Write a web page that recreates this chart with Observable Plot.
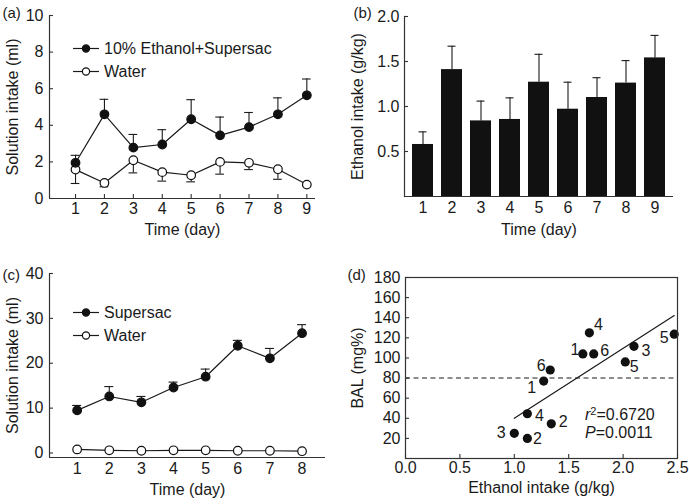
<!DOCTYPE html>
<html>
<head>
<meta charset="utf-8">
<script src="https://cdn.jsdelivr.net/npm/d3@7"></script>
<script src="https://cdn.jsdelivr.net/npm/@observablehq/plot@0.6"></script>
<style>
  body { margin: 0; background: #fff; }
  #fig { position: relative; width: 689px; height: 504px; font-family: "Liberation Sans", Arial, sans-serif; color: #1a1a1a; overflow: hidden; }
  .panel { position: absolute; }
  .legend { position: absolute; font-size: 16px; line-height: 23px; }
  .legend .row { display: flex; align-items: center; height: 23px; white-space: nowrap; }
  .legend svg { display: block; margin-right: 4px; }
  .stats { position: absolute; font-size: 16px; line-height: 18px; white-space: nowrap; }
</style>
</head>
<body>
<div id="fig"></div>
<script>
// ---------- Data ----------
// (a) 10% ethanol + Supersac vs water, days 1-9 (ml), mean and SEM
const daysA = [1, 2, 3, 4, 5, 6, 7, 8, 9];
const ethanolMl = [1.95, 4.6, 2.78, 2.95, 4.33, 3.45, 3.9, 4.6, 5.64];
const ethanolMlSem = [0.41, 0.82, 0.72, 0.81, 1.07, 1.0, 0.8, 0.9, 0.89];
const waterMlA = [1.58, 0.85, 2.09, 1.44, 1.27, 2.0, 1.95, 1.6, 0.76];
const waterMlASem = [0.76, 0.21, 0.69, 0.49, 0.36, 0.67, 0.37, 0.55, 0.05];

// (b) ethanol intake (g/kg), days 1-9
const daysB = ["1", "2", "3", "4", "5", "6", "7", "8", "9"];
const ethanolGkg = [0.578, 1.41, 0.84, 0.856, 1.27, 0.97, 1.10, 1.26, 1.54];
const ethanolGkgSem = [0.14, 0.26, 0.22, 0.24, 0.31, 0.30, 0.22, 0.25, 0.25];

// (c) Supersac vs water, days 1-8 (ml)
const daysC = [1, 2, 3, 4, 5, 6, 7, 8];
const supersacMl = [9.5, 12.6, 11.3, 14.6, 17.0, 23.9, 21.1, 26.7];
const supersacMlSem = [1.1, 2.2, 1.3, 1.2, 1.7, 1.2, 2.2, 1.9];
const waterMlC = [0.8, 0.6, 0.5, 0.6, 0.6, 0.5, 0.5, 0.4];

// (d) BAL vs ethanol intake, labelled by animal
const intakeD = [1.0, 1.12, 1.12, 1.34, 1.27, 1.33, 1.63, 1.69, 1.73, 2.02, 2.10, 2.47];
const balD = [25, 20, 44.5, 34.5, 77, 88, 104, 125, 104, 96, 111.6, 123.6];
const animalD = ["3", "2", "4", "2", "1", "6", "1", "4", "6", "5", "3", "5"];
const balThreshold = [80];
const statsText = ["0.6720", "0.0011"];

// tick labels
const ticksA_y = [0, 2, 4, 6, 8, 10];
const ticksB_y = [0.5, 1.0, 1.5, 2.0];
const ticksC_y = [0, 10, 20, 30, 40];
const ticksD_x = [0, 0.5, 1.0, 1.5, 2.0, 2.5];
const ticksD_y = [20, 40, 60, 80, 100, 120, 140, 160, 180];

// label placement for (d) (pixel offsets: dx, dy)
const labelOffsetD = [[-13, 0], [10, 0], [12, 2], [12, -2], [-12, 7], [-9, -4], [-8, -4], [9, -8], [11, -3], [9, 5], [12, 5], [-10, 4]];

// ---------- Helpers ----------
const FONT = "'Liberation Sans', Arial, sans-serif";
const INK = "#1a1a1a";
const AX = "#333";
const fig = document.getElementById("fig");

function place(el, left, top) {
  const wrap = document.createElement("div");
  wrap.className = "panel";
  wrap.style.left = left + "px";
  wrap.style.top = top + "px";
  wrap.appendChild(el);
  fig.appendChild(wrap);
}
function style() {
  return { fontFamily: FONT, fontSize: "16px", color: INK, background: "transparent", overflow: "visible" };
}
function inwardY(ticks, innerW) {
  return Plot.tickY(ticks, { y: d => d, insetRight: innerW - 4, stroke: AX, strokeWidth: 1.1 });
}
function inwardX(ticks, innerH) {
  return Plot.tickX(ticks, { x: d => d, insetTop: innerH - 4, stroke: AX, strokeWidth: 1.1 });
}
function yTitle(t, dx) {
  return Plot.text([t], { frameAnchor: "left", rotate: -90, dx, textAnchor: "middle", lineAnchor: "middle", fontSize: 16, fill: INK });
}
function xTitle(t, dy) {
  return Plot.text([t], { frameAnchor: "bottom", dy, textAnchor: "middle", lineAnchor: "middle", fontSize: 16, fill: INK });
}
function tag(t, dx, dy) {
  return Plot.text([t], { frameAnchor: "top-left", dx, dy, textAnchor: "start", lineAnchor: "middle", fontSize: 15, fill: INK });
}
function legend(left, top, rows) {
  const div = document.createElement("div");
  div.className = "legend";
  div.style.left = left + "px";
  div.style.top = top + "px";
  for (const r of rows) {
    const row = document.createElement("div");
    row.className = "row";
    row.innerHTML = `<svg width="27" height="23"><line x1="0" x2="26" y1="11.5" y2="11.5" stroke="${INK}" stroke-width="1.2"/><circle cx="13" cy="11.5" r="3.6" fill="${r.filled ? "#111" : "#fff"}" stroke="#111" stroke-width="1.2"/></svg><span>${r.label}</span>`;
    div.appendChild(row);
  }
  fig.appendChild(div);
}

// ---------- (a) ----------
{
  const W = 345, H = 248, ml = 49, mr = 30, mt = 15, mb = 50;
  const eth = daysA.map((d, i) => ({ day: d, v: ethanolMl[i], e: ethanolMlSem[i] }));
  const wat = daysA.map((d, i) => ({ day: d, v: waterMlA[i], e: waterMlASem[i] }));
  const cap = 0.15;
  const p = Plot.plot({
    width: W, height: H, marginLeft: ml, marginRight: mr, marginTop: mt, marginBottom: mb,
    style: style(),
    x: { domain: [0.1, 9.3] },
    y: { domain: [0, 10] },
    marks: [
      Plot.axisY(ticksA_y, { tickSize: 0, tickPadding: 6, label: null, fontSize: 16 }),
      Plot.axisX(daysA, { tickSize: 0, tickPadding: 4, label: null, fontSize: 16 }),
      inwardY(ticksA_y, W - ml - mr),
      inwardX(daysA, H - mt - mb),
      Plot.ruleX([0.1], { stroke: AX, strokeWidth: 1.2 }),
      Plot.ruleY([0], { stroke: AX, strokeWidth: 1.2 }),
      // error bars
      Plot.ruleX(eth, { x: "day", y1: "v", y2: d => d.v + d.e, stroke: INK, strokeWidth: 1.1 }),
      Plot.ruleY(eth, { y: d => d.v + d.e, x1: d => d.day - cap, x2: d => d.day + cap, stroke: INK, strokeWidth: 1.1 }),
      Plot.ruleX(wat, { x: "day", y1: "v", y2: d => d.v - d.e, stroke: INK, strokeWidth: 1.1 }),
      Plot.ruleY(wat, { y: d => d.v - d.e, x1: d => d.day - cap, x2: d => d.day + cap, stroke: INK, strokeWidth: 1.1 }),
      Plot.line(eth, { x: "day", y: "v", stroke: INK, strokeWidth: 1.2 }),
      Plot.line(wat, { x: "day", y: "v", stroke: INK, strokeWidth: 1.2 }),
      Plot.dot(wat, { x: "day", y: "v", r: 4.3, fill: "white", stroke: "#111", strokeWidth: 1.2 }),
      Plot.dot(eth, { x: "day", y: "v", r: 4.3, fill: "#111", stroke: "#111", strokeWidth: 1.2 }),
      yTitle("Solution intake (ml)", -37),
      xTitle("Time (day)", 31),
      tag("(a)", -47, -2)
    ]
  });
  place(p, 0, 0);
  legend(73, 36.5, [{ label: "10% Ethanol+Supersac", filled: true }, { label: "Water", filled: false }]);
}

// ---------- (b) ----------
{
  const W = 344, H = 248, ml = 59, mr = 16, mt = 16, mb = 52;
  const bars = daysB.map((d, i) => ({ day: d, v: ethanolGkg[i], e: ethanolGkgSem[i] }));
  const p = Plot.plot({
    width: W, height: H, marginLeft: ml, marginRight: mr, marginTop: mt, marginBottom: mb,
    style: style(),
    x: { domain: daysB, paddingInner: 0.27, paddingOuter: 0.15 },
    y: { domain: [0, 2] },
    marks: [
      Plot.axisY(ticksB_y, { tickSize: 0, tickPadding: 5, label: null, fontSize: 16, tickFormat: d3.format(".1f") }),
      Plot.axisX({ tickSize: 0, tickPadding: 5, label: null, fontSize: 16 }),
      inwardY(ticksB_y, W - ml - mr),
      Plot.ruleX(bars, { x: "day", y1: "v", y2: d => d.v + d.e, stroke: INK, strokeWidth: 1.1 }),
      Plot.tickY(bars, { x: "day", y: d => d.v + d.e, insetLeft: 6.5, insetRight: 6.5, stroke: INK, strokeWidth: 1.1 }),
      Plot.barY(bars, { x: "day", y: "v", fill: "#111" }),
      Plot.frame({ anchor: "left", stroke: AX, strokeWidth: 1.2 }),
      Plot.ruleY([0], { stroke: AX, strokeWidth: 1.2 }),
      yTitle("Ethanol intake (g/kg)", -47),
      xTitle("Time (day)", 33),
      tag("(b)", -51, -3)
    ]
  });
  place(p, 345, 0);
}

// ---------- (c) ----------
{
  const W = 345, H = 254, ml = 49, mr = 20, mt = 23, mb = 47;
  const sup = daysC.map((d, i) => ({ day: d, v: supersacMl[i], e: supersacMlSem[i] }));
  const wat = daysC.map((d, i) => ({ day: d, v: waterMlC[i] }));
  const cap = 0.14;
  const p = Plot.plot({
    width: W, height: H, marginLeft: ml, marginRight: mr, marginTop: mt, marginBottom: mb,
    style: style(),
    x: { domain: [0.14, 8.73] },
    y: { domain: [-1, 40] },
    marks: [
      Plot.axisY(ticksC_y, { tickSize: 0, tickPadding: 6, label: null, fontSize: 16 }),
      Plot.axisX(daysC, { tickSize: 0, tickPadding: 5, label: null, fontSize: 16 }),
      inwardY(ticksC_y, W - ml - mr),
      Plot.ruleX([0.14], { stroke: AX, strokeWidth: 1.2 }),
      Plot.ruleY([-1], { stroke: AX, strokeWidth: 1.2 }),
      Plot.ruleX(sup, { x: "day", y1: "v", y2: d => d.v + d.e, stroke: INK, strokeWidth: 1.1 }),
      Plot.ruleY(sup, { y: d => d.v + d.e, x1: d => d.day - cap, x2: d => d.day + cap, stroke: INK, strokeWidth: 1.1 }),
      Plot.line(sup, { x: "day", y: "v", stroke: INK, strokeWidth: 1.2 }),
      Plot.line(wat, { x: "day", y: "v", stroke: INK, strokeWidth: 1.2 }),
      Plot.dot(wat, { x: "day", y: "v", r: 4.3, fill: "white", stroke: "#111", strokeWidth: 1.2 }),
      Plot.dot(sup, { x: "day", y: "v", r: 4.3, fill: "#111", stroke: "#111", strokeWidth: 1.2 }),
      yTitle("Solution intake (ml)", -37),
      xTitle("Time (day)", 32),
      tag("(c)", -47, 2)
    ]
  });
  place(p, 0, 250);
  legend(73, 301, [{ label: "Supersac", filled: true }, { label: "Water", filled: false }]);
}

// ---------- (d) ----------
{
  const W = 344, H = 254, ml = 60, mr = 12, mt = 27, mb = 46;
  const pts = intakeD.map((x, i) => ({ x, y: balD[i], lab: animalD[i], dx: labelOffsetD[i][0], dy: labelOffsetD[i][1] }));
  const p = Plot.plot({
    width: W, height: H, marginLeft: ml, marginRight: mr, marginTop: mt, marginBottom: mb,
    style: style(),
    x: { domain: [0, 2.5] },
    y: { domain: [0, 180] },
    marks: [
      Plot.axisY(ticksD_y, { tickSize: 0, tickPadding: 5, label: null, fontSize: 16 }),
      Plot.axisX(ticksD_x, { tickSize: 0, tickPadding: 3, label: null, fontSize: 16, tickFormat: d3.format(".1f") }),
      inwardY(ticksD_y, W - ml - mr),
      inwardX(ticksD_x, H - mt - mb),
      Plot.ruleY(balThreshold, { stroke: INK, strokeWidth: 1.1, strokeDasharray: "5,3.5" }),
      Plot.linearRegressionY(pts, { x: "x", y: "y", ci: 0, stroke: INK, strokeWidth: 1.2 }),
      Plot.dot(pts, { x: "x", y: "y", r: 4.6, fill: "#111" }),
      ...pts.map(d => Plot.text([d], { x: "x", y: "y", text: "lab", dx: d.dx, dy: d.dy, fontSize: 16, fill: INK })),
      Plot.frame({ stroke: AX, strokeWidth: 1.2 }),
      yTitle("BAL (mg%)", -48),
      xTitle("Ethanol intake (g/kg)", 29),
      tag("(d)", -58, -2)
    ]
  });
  place(p, 345, 250);
  const s = document.createElement("div");
  s.className = "stats";
  s.style.left = "585px";
  s.style.top = "406px";
  s.innerHTML = `<div><i>r</i><sup style="font-size:11px;vertical-align:5px;line-height:0">2</sup>=${statsText[0]}</div><div><i>P</i>=${statsText[1]}</div>`;
  fig.appendChild(s);
}
</script>
</body>
</html>
